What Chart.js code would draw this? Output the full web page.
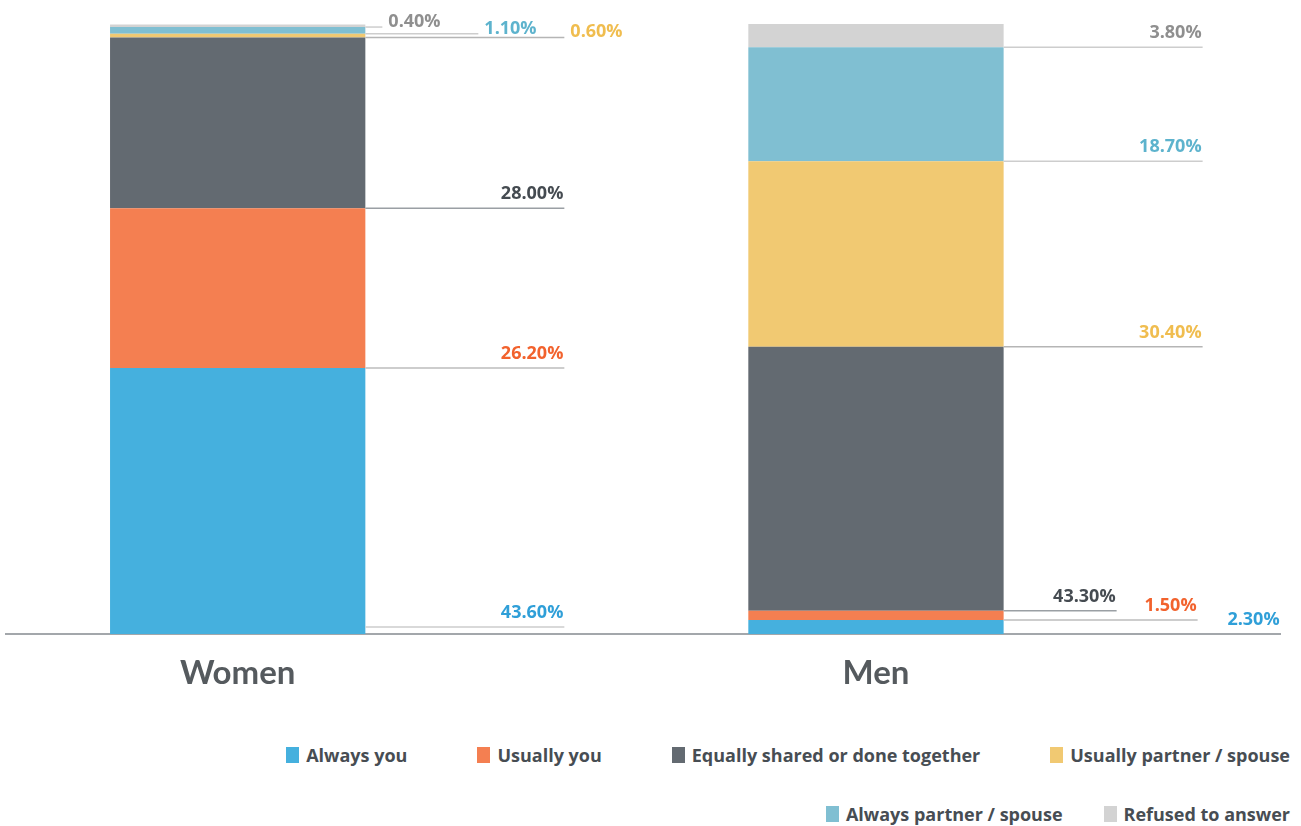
<!DOCTYPE html>
<html>
<head>
<meta charset="utf-8">
<script src="https://cdn.jsdelivr.net/npm/chart.js@4.4.1/dist/chart.umd.min.js"></script>
<style>
    body { margin: 0; background: #fff; }
    #wrap { position: relative; width: 1301px; height: 826px; }
    #legend {
        position: absolute; right: 11px; top: 744px;
        font-family: "Open Sans", sans-serif; font-weight: 700; font-size: 18px; color: #474d53;
    }
    #legend .row { display: flex; justify-content: flex-end; height: 22px; margin-bottom: 37px; }
    #legend .item { display: flex; align-items: center; line-height: 22px; }
    #legend .box { width: 13px; height: 16px; margin-right: 7px; }
</style>
</head>
<body>
<div id="wrap">
    <canvas id="myChart" width="1301" height="700"></canvas>
    <div id="legend"></div>
</div>
<script>
// 카테고리 & 시리즈 데이터 (%)
const categories = ['Women', 'Men'];
const seriesNames = ['Always you', 'Usually you', 'Equally shared or done together',
    'Usually partner / spouse', 'Always partner / spouse', 'Refused to answer'];
const alwaysYou = [43.6, 2.3];
const usuallyYou = [26.2, 1.5];
const equallyShared = [28.0, 43.3];
const usuallyPartner = [0.6, 30.4];
const alwaysPartner = [1.1, 18.7];
const refused = [0.4, 3.8];

const barColors = ['#45b0de', '#f47f51', '#636a71', '#f1c972', '#80bfd2', '#d3d3d3'];
const labelColors = ['#2f9fd8', '#f2622d', '#454b51', '#f0bd4f', '#5db3cd', '#8f8f8f'];
const leaderColors = ['#cdcdcd', '#bdbdbd', '#9a9fa4', '#b5b5b5', '#cdcdcd', '#cdcdcd'];

// 라벨 배치: 리더선 길이, 옆에 붙일지 여부, 선을 올리는 양 [Women, Men]
const leaderLen = [[199, 277], [199, 194], [199, 113], [199, 199], [113, 199], [17, 199]];
const labelSide = [[false, false], [false, false], [false, false], [true, false], [true, false], [true, false]];
const leaderLift = [[7, 0], [0, 0], [0, 0], [0, 0], [0, 0], [0, 0]];

// 범례 줄 구성 (시리즈 인덱스) 과 줄별 간격
const legendRows = [[0, 1, 2, 3], [4, 5]];
const legendGaps = [70, 41];

const allSeries = [alwaysYou, usuallyYou, equallyShared, usuallyPartner, alwaysPartner, refused];

// 값 라벨 + 리더선 플러그인
const valueLabels = {
    id: 'valueLabels',
    afterDatasetsDraw(chart) {
        const ctx = chart.ctx;
        const bottom = chart.chartArea.bottom;
        ctx.save();
        ctx.font = '700 18px "Open Sans", sans-serif';
        chart.data.datasets.forEach((ds, i) => {
            chart.getDatasetMeta(i).data.forEach((bar, j) => {
                const right = bar.x + bar.width / 2;
                const lineY = bar.base - leaderLift[i][j];
                const endX = right + leaderLen[i][j];
                if (lineY < bottom - 1) {
                    ctx.strokeStyle = leaderColors[i];
                    ctx.lineWidth = 1.5;
                    ctx.beginPath();
                    ctx.moveTo(right, lineY);
                    ctx.lineTo(endX, lineY);
                    ctx.stroke();
                }
                const text = allSeries[i][j].toFixed(2) + '%';
                ctx.fillStyle = labelColors[i];
                ctx.textBaseline = 'alphabetic';
                if (labelSide[i][j]) {
                    ctx.textAlign = 'left';
                    ctx.fillText(text, endX + 6, lineY);
                } else {
                    ctx.textAlign = 'right';
                    ctx.fillText(text, endX - 1, lineY - 9);
                }
            });
        });
        ctx.restore();
    }
};

const ctx = document.getElementById('myChart').getContext('2d');
window.myChart = new Chart(ctx, {
    type: 'bar',
    data: {
        datasets: allSeries.map((values, i) => ({
            label: seriesNames[i],
            data: categories.map((c, j) => ({ x: j, y: values[j] })),
            backgroundColor: barColors[i],
            borderWidth: 0,
            barPercentage: 0.4,
            categoryPercentage: 1.0
        }))
    },
    options: {
        responsive: false,
        animation: false,
        layout: { padding: { top: 24, left: 6, right: 21, bottom: 0 } },
        plugins: {
            legend: { display: false },
            tooltip: { enabled: false }
        },
        scales: {
            x: {
                type: 'linear',
                stacked: true,
                offset: false,
                bounds: 'data',
                min: -0.363,
                max: 1.633,
                afterBuildTicks: (scale) => {
                    scale.ticks = categories.map((c, j) => ({ value: j }));
                },
                afterFit: (scale) => { scale.height = 66; },
                grid: { display: false, drawTicks: false, offset: false },
                border: { display: true, color: '#a3a7ab', width: 2 },
                ticks: {
                    autoSkip: false,
                    maxRotation: 0,
                    padding: 20,
                    color: '#555a5e',
                    font: { family: 'Lato, sans-serif', size: 33, weight: 'bold' },
                    callback: (value) => categories[value]
                }
            },
            y: {
                stacked: true,
                display: false,
                min: 0,
                max: 100
            }
        }
    },
    plugins: [valueLabels]
});

// 범례 (HTML)
const legendEl = document.getElementById('legend');
legendRows.forEach((row, r) => {
    const rowEl = document.createElement('div');
    rowEl.className = 'row';
    rowEl.style.columnGap = legendGaps[r] + 'px';
    row.forEach((i) => {
        const ds = myChart.data.datasets[i];
        const item = document.createElement('div');
        item.className = 'item';
        const box = document.createElement('span');
        box.className = 'box';
        box.style.background = ds.backgroundColor;
        const label = document.createElement('span');
        label.textContent = ds.label;
        item.appendChild(box);
        item.appendChild(label);
        rowEl.appendChild(item);
    });
    legendEl.appendChild(rowEl);
});
</script>
</body>
</html>
